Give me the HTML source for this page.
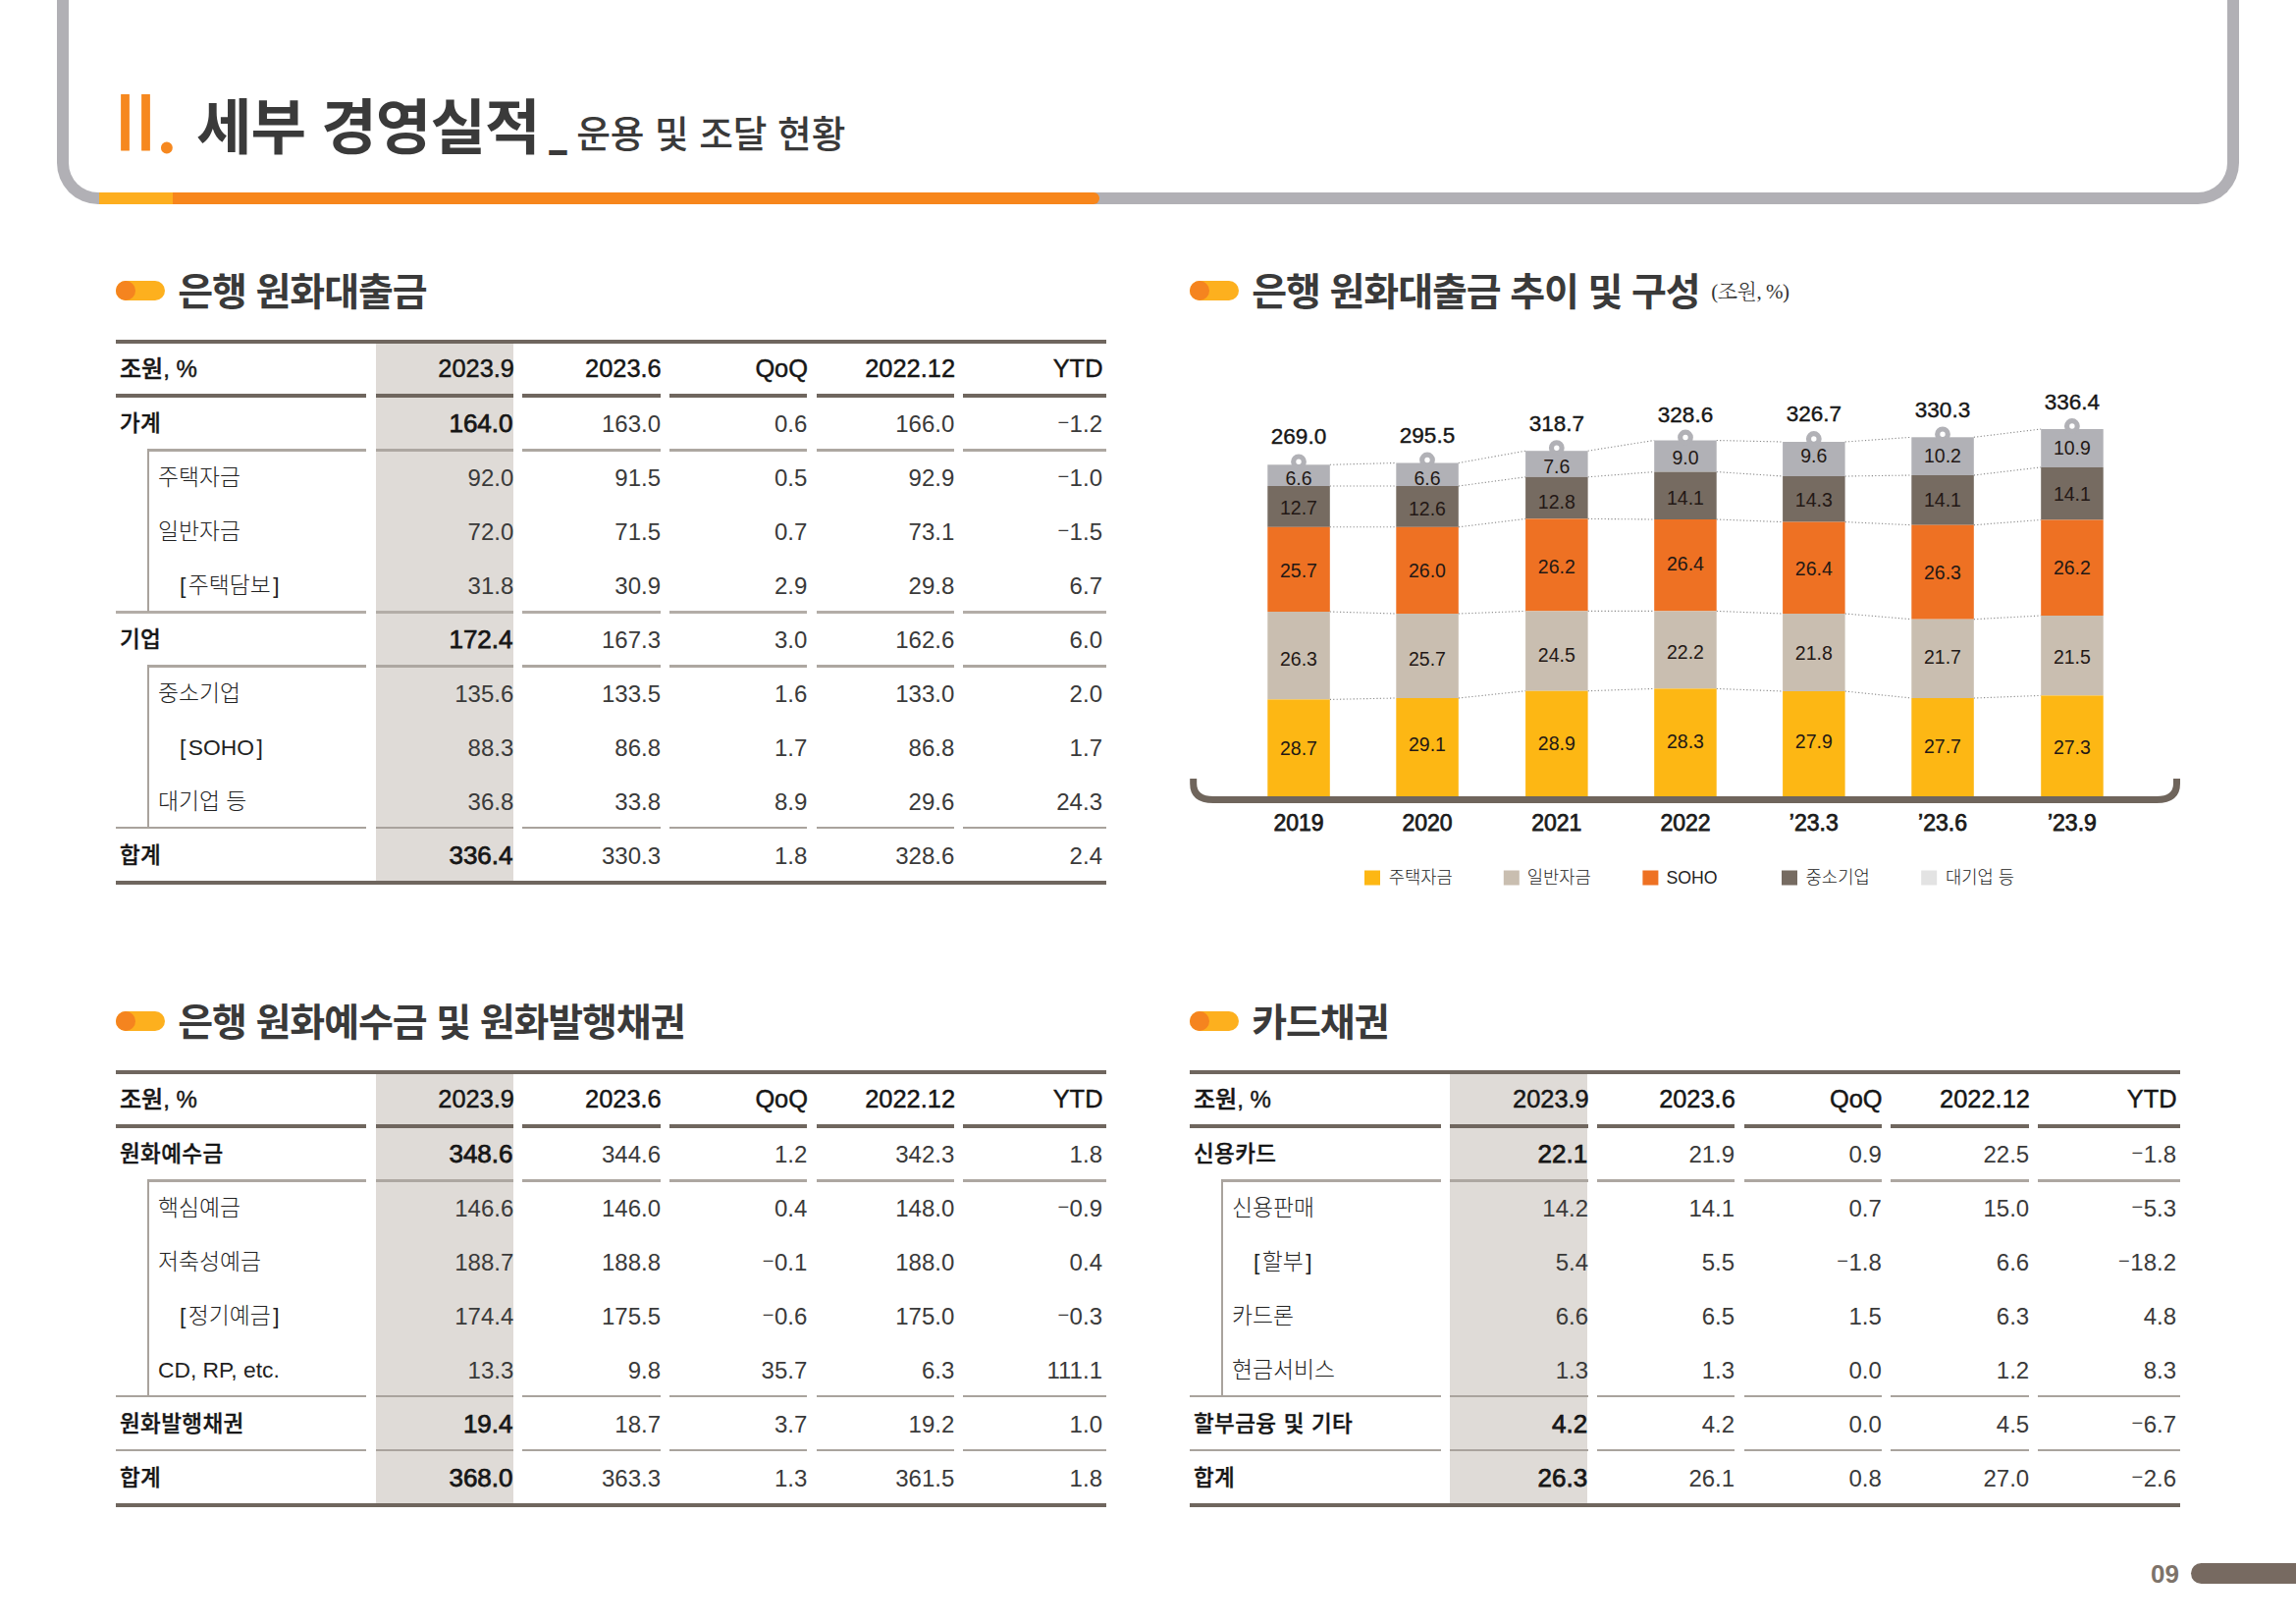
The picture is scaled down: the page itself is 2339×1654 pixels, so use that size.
<!DOCTYPE html>
<html lang="ko"><head><meta charset="utf-8"><title>II. 세부 경영실적 - 운용 및 조달 현황</title>
<style>
html,body{margin:0;padding:0;background:#fff}
body{width:2339px;height:1654px;position:relative;overflow:hidden;font-family:"Liberation Sans","Noto Sans CJK KR",sans-serif;color:#1d1d1d}
.abs{position:absolute}
.frame{position:absolute;left:58px;top:-40px;width:2199px;height:236px;border:12px solid #b1b0b5;border-top:none;border-radius:0 0 42px 42px;box-sizing:content-box}
.obar{position:absolute;top:196px;height:12px}
.h1{position:absolute;left:200px;top:85.5px;font-size:61.5px;font-weight:700;color:#3a3a3a;white-space:nowrap;line-height:90px;letter-spacing:-1px}
.h1s{position:absolute;left:559px;top:97px;font-size:37.7px;font-weight:500;color:#3a3a3a;white-space:nowrap;line-height:80px}
.sec{position:absolute;height:60px;line-height:60px;font-size:39px;font-weight:700;color:#3a3a3a;white-space:nowrap;letter-spacing:-1.1px}
.pill{position:absolute;width:50px;height:20px;border-radius:10px;background:#fdb01e}
.pill i{position:absolute;left:0;top:0;width:20px;height:20px;border-radius:10px;background:#f5841f}
.tbl{position:absolute;width:1009px}
.ln{position:absolute;background:#a9a39d}
.dk{background:#6f665e}
.hl{position:absolute;background:#dfdbd7}
.c{position:absolute;height:55px;line-height:55px;font-size:24px;white-space:nowrap;font-weight:300;color:#3a3a3a}
.lab{color:#222}
.r{text-align:right}
.mn{font-size:20px;position:relative;top:-2.6px;margin-right:0.5px}
.lab{font-size:22.8px}
.lab.b{font-size:22.5px;letter-spacing:0.4px;word-spacing:0.6px;font-weight:500;-webkit-text-stroke:0.35px #161616}
.nb{font-weight:400;font-size:26px;color:#161616;-webkit-text-stroke:0.75px #161616}
.b{font-weight:700;color:#161616}
.hd{font-weight:500;color:#161616;font-size:25.4px;-webkit-text-stroke:0.45px #161616}
</style></head><body>

<div class="frame"></div>
<div class="obar" style="left:101px;width:1019px;background:#f7861c;border-radius:0 6px 6px 0"></div>
<div class="obar" style="left:101px;width:75px;background:#fdae1f"></div>
<div class="abs" style="left:116.2px;top:74.9px;font-size:81px;line-height:100px;color:#f6881f;letter-spacing:-1.5px;-webkit-text-stroke:1.1px #f6881f;white-space:nowrap">II<span style="font-family:'Liberation Serif',serif;font-weight:700;font-size:73px;-webkit-text-stroke:0;position:relative;top:3.2px;margin-left:2.5px">.</span></div>
<div class="h1">세부 경영실적</div>
<div class="h1s" style="left:561.5px;font-size:25px;font-weight:700;top:103.5px;-webkit-text-stroke:4px #3a3a3a">_</div>
<div class="h1s" style="left:587.2px">운용 및 조달 현황</div>
<div class="pill" style="left:118px;top:286px"><i></i></div>
<div class="sec" style="left:181.3px;top:267.5px">은행 원화대출금</div>
<div class="pill" style="left:1212px;top:286px"><i></i></div>
<div class="sec" style="left:1275.3px;top:267.5px">은행 원화대출금 추이 및 구성 <span style="font-family:'Liberation Serif','Noto Serif CJK SC',serif;font-size:21px;font-weight:300;letter-spacing:-0.5px;color:#333;position:relative;top:-6.5px;margin-left:2px">(조원, %)</span></div>
<div class="pill" style="left:118px;top:1030px"><i></i></div>
<div class="sec" style="left:181.3px;top:1011.5px">은행 원화예수금 및 원화발행채권</div>
<div class="pill" style="left:1212px;top:1030px"><i></i></div>
<div class="sec" style="left:1275.3px;top:1011.5px">카드채권</div>
<div class="tbl" style="left:118px;top:346px;height:555px">
<div class="hl" style="left:265px;top:2px;width:140px;height:550px"></div>
<div class="ln dk" style="left:0;top:0;width:1009px;height:4px"></div>
<div class="ln dk" style="left:0;top:551px;width:1009px;height:4px"></div>
<div class="ln dk" style="left:0px;top:55px;width:255px;height:4px"></div>
<div class="ln dk" style="left:265px;top:55px;width:140px;height:4px"></div>
<div class="ln dk" style="left:414px;top:55px;width:140.7px;height:4px"></div>
<div class="ln dk" style="left:564px;top:55px;width:140px;height:4px"></div>
<div class="ln dk" style="left:714px;top:55px;width:140px;height:4px"></div>
<div class="ln dk" style="left:863.2px;top:55px;width:145.8px;height:4px"></div>
<div class="c hd" style="left:4px;top:2px;font-size:24px">조원, %</div>
<div class="c hd r" style="left:265px;width:141px;top:2px">2023.9</div>
<div class="c hd r" style="left:414px;width:141.7px;top:2px">2023.6</div>
<div class="c hd r" style="left:564px;width:141px;top:2px">QoQ</div>
<div class="c hd r" style="left:714px;width:141px;top:2px">2022.12</div>
<div class="c hd r" style="left:863.2px;width:142.3px;top:2px">YTD</div>
<div class="ln" style="left:32px;top:110.9px;width:223px;height:2.8px;background:#ada7a1"></div>
<div class="ln" style="left:265px;top:110.9px;width:140px;height:2.8px;background:#ada7a1"></div>
<div class="ln" style="left:414px;top:110.9px;width:140.7px;height:2.8px;background:#ada7a1"></div>
<div class="ln" style="left:564px;top:110.9px;width:140px;height:2.8px;background:#ada7a1"></div>
<div class="ln" style="left:714px;top:110.9px;width:140px;height:2.8px;background:#ada7a1"></div>
<div class="ln" style="left:863.2px;top:110.9px;width:145.8px;height:2.8px;background:#ada7a1"></div>
<div class="c b lab" style="left:4px;top:58px">가계</div>
<div class="c r nb" style="left:265px;width:139.5px;top:57.8px">164.0</div>
<div class="c r" style="left:414px;width:141px;top:57.8px">163.0</div>
<div class="c r" style="left:564px;width:140.3px;top:57.8px">0.6</div>
<div class="c r" style="left:714px;width:140.3px;top:57.8px">166.0</div>
<div class="c r" style="left:863.2px;width:141.8px;top:57.8px"><span class="mn">−</span>1.2</div>
<div class="c lab" style="left:43px;top:113px">주택자금</div>
<div class="c r" style="left:265px;width:140.3px;top:112.8px">92.0</div>
<div class="c r" style="left:414px;width:141px;top:112.8px">91.5</div>
<div class="c r" style="left:564px;width:140.3px;top:112.8px">0.5</div>
<div class="c r" style="left:714px;width:140.3px;top:112.8px">92.9</div>
<div class="c r" style="left:863.2px;width:141.8px;top:112.8px"><span class="mn">−</span>1.0</div>
<div class="c lab" style="left:43px;top:168px">일반자금</div>
<div class="c r" style="left:265px;width:140.3px;top:167.8px">72.0</div>
<div class="c r" style="left:414px;width:141px;top:167.8px">71.5</div>
<div class="c r" style="left:564px;width:140.3px;top:167.8px">0.7</div>
<div class="c r" style="left:714px;width:140.3px;top:167.8px">73.1</div>
<div class="c r" style="left:863.2px;width:141.8px;top:167.8px"><span class="mn">−</span>1.5</div>
<div class="ln" style="left:0px;top:275.9px;width:255px;height:3px;background:#b3ada7"></div>
<div class="ln" style="left:265px;top:275.9px;width:140px;height:3px;background:#b3ada7"></div>
<div class="ln" style="left:414px;top:275.9px;width:140.7px;height:3px;background:#b3ada7"></div>
<div class="ln" style="left:564px;top:275.9px;width:140px;height:3px;background:#b3ada7"></div>
<div class="ln" style="left:714px;top:275.9px;width:140px;height:3px;background:#b3ada7"></div>
<div class="ln" style="left:863.2px;top:275.9px;width:145.8px;height:3px;background:#b3ada7"></div>
<div class="c lab" style="left:65px;top:223px"><span style="margin-right:2.5px">[</span>주택담보<span style="margin-left:2.5px">]</span></div>
<div class="c r" style="left:265px;width:140.3px;top:222.8px">31.8</div>
<div class="c r" style="left:414px;width:141px;top:222.8px">30.9</div>
<div class="c r" style="left:564px;width:140.3px;top:222.8px">2.9</div>
<div class="c r" style="left:714px;width:140.3px;top:222.8px">29.8</div>
<div class="c r" style="left:863.2px;width:141.8px;top:222.8px">6.7</div>
<div class="ln" style="left:32px;top:330.9px;width:223px;height:2.8px;background:#ada7a1"></div>
<div class="ln" style="left:265px;top:330.9px;width:140px;height:2.8px;background:#ada7a1"></div>
<div class="ln" style="left:414px;top:330.9px;width:140.7px;height:2.8px;background:#ada7a1"></div>
<div class="ln" style="left:564px;top:330.9px;width:140px;height:2.8px;background:#ada7a1"></div>
<div class="ln" style="left:714px;top:330.9px;width:140px;height:2.8px;background:#ada7a1"></div>
<div class="ln" style="left:863.2px;top:330.9px;width:145.8px;height:2.8px;background:#ada7a1"></div>
<div class="c b lab" style="left:4px;top:278px">기업</div>
<div class="c r nb" style="left:265px;width:139.5px;top:277.8px">172.4</div>
<div class="c r" style="left:414px;width:141px;top:277.8px">167.3</div>
<div class="c r" style="left:564px;width:140.3px;top:277.8px">3.0</div>
<div class="c r" style="left:714px;width:140.3px;top:277.8px">162.6</div>
<div class="c r" style="left:863.2px;width:141.8px;top:277.8px">6.0</div>
<div class="c lab" style="left:43px;top:333px">중소기업</div>
<div class="c r" style="left:265px;width:140.3px;top:332.8px">135.6</div>
<div class="c r" style="left:414px;width:141px;top:332.8px">133.5</div>
<div class="c r" style="left:564px;width:140.3px;top:332.8px">1.6</div>
<div class="c r" style="left:714px;width:140.3px;top:332.8px">133.0</div>
<div class="c r" style="left:863.2px;width:141.8px;top:332.8px">2.0</div>
<div class="c lab" style="left:65px;top:388px"><span style="margin-right:2.5px">[</span>SOHO<span style="margin-left:2.5px">]</span></div>
<div class="c r" style="left:265px;width:140.3px;top:387.8px">88.3</div>
<div class="c r" style="left:414px;width:141px;top:387.8px">86.8</div>
<div class="c r" style="left:564px;width:140.3px;top:387.8px">1.7</div>
<div class="c r" style="left:714px;width:140.3px;top:387.8px">86.8</div>
<div class="c r" style="left:863.2px;width:141.8px;top:387.8px">1.7</div>
<div class="ln" style="left:0px;top:495.9px;width:255px;height:2.4px"></div>
<div class="ln" style="left:265px;top:495.9px;width:140px;height:2.4px"></div>
<div class="ln" style="left:414px;top:495.9px;width:140.7px;height:2.4px"></div>
<div class="ln" style="left:564px;top:495.9px;width:140px;height:2.4px"></div>
<div class="ln" style="left:714px;top:495.9px;width:140px;height:2.4px"></div>
<div class="ln" style="left:863.2px;top:495.9px;width:145.8px;height:2.4px"></div>
<div class="c lab" style="left:43px;top:443px">대기업 등</div>
<div class="c r" style="left:265px;width:140.3px;top:442.8px">36.8</div>
<div class="c r" style="left:414px;width:141px;top:442.8px">33.8</div>
<div class="c r" style="left:564px;width:140.3px;top:442.8px">8.9</div>
<div class="c r" style="left:714px;width:140.3px;top:442.8px">29.6</div>
<div class="c r" style="left:863.2px;width:141.8px;top:442.8px">24.3</div>
<div class="c b lab" style="left:4px;top:498px">합계</div>
<div class="c r nb" style="left:265px;width:139.5px;top:497.8px">336.4</div>
<div class="c r" style="left:414px;width:141px;top:497.8px">330.3</div>
<div class="c r" style="left:564px;width:140.3px;top:497.8px">1.8</div>
<div class="c r" style="left:714px;width:140.3px;top:497.8px">328.6</div>
<div class="c r" style="left:863.2px;width:141.8px;top:497.8px">2.4</div>
<div class="ln" style="left:32px;top:111px;width:2px;height:166px"></div>
<div class="ln" style="left:32px;top:331px;width:2px;height:166px"></div>
</div>
<div class="tbl" style="left:118px;top:1090px;height:445px">
<div class="hl" style="left:265px;top:2px;width:140px;height:440px"></div>
<div class="ln dk" style="left:0;top:0;width:1009px;height:4px"></div>
<div class="ln dk" style="left:0;top:441px;width:1009px;height:4px"></div>
<div class="ln dk" style="left:0px;top:55px;width:255px;height:4px"></div>
<div class="ln dk" style="left:265px;top:55px;width:140px;height:4px"></div>
<div class="ln dk" style="left:414px;top:55px;width:140.7px;height:4px"></div>
<div class="ln dk" style="left:564px;top:55px;width:140px;height:4px"></div>
<div class="ln dk" style="left:714px;top:55px;width:140px;height:4px"></div>
<div class="ln dk" style="left:863.2px;top:55px;width:145.8px;height:4px"></div>
<div class="c hd" style="left:4px;top:2px;font-size:24px">조원, %</div>
<div class="c hd r" style="left:265px;width:141px;top:2px">2023.9</div>
<div class="c hd r" style="left:414px;width:141.7px;top:2px">2023.6</div>
<div class="c hd r" style="left:564px;width:141px;top:2px">QoQ</div>
<div class="c hd r" style="left:714px;width:141px;top:2px">2022.12</div>
<div class="c hd r" style="left:863.2px;width:142.3px;top:2px">YTD</div>
<div class="ln" style="left:32px;top:110.9px;width:223px;height:2.8px;background:#ada7a1"></div>
<div class="ln" style="left:265px;top:110.9px;width:140px;height:2.8px;background:#ada7a1"></div>
<div class="ln" style="left:414px;top:110.9px;width:140.7px;height:2.8px;background:#ada7a1"></div>
<div class="ln" style="left:564px;top:110.9px;width:140px;height:2.8px;background:#ada7a1"></div>
<div class="ln" style="left:714px;top:110.9px;width:140px;height:2.8px;background:#ada7a1"></div>
<div class="ln" style="left:863.2px;top:110.9px;width:145.8px;height:2.8px;background:#ada7a1"></div>
<div class="c b lab" style="left:4px;top:58px">원화예수금</div>
<div class="c r nb" style="left:265px;width:139.5px;top:57.8px">348.6</div>
<div class="c r" style="left:414px;width:141px;top:57.8px">344.6</div>
<div class="c r" style="left:564px;width:140.3px;top:57.8px">1.2</div>
<div class="c r" style="left:714px;width:140.3px;top:57.8px">342.3</div>
<div class="c r" style="left:863.2px;width:141.8px;top:57.8px">1.8</div>
<div class="c lab" style="left:43px;top:113px">핵심예금</div>
<div class="c r" style="left:265px;width:140.3px;top:112.8px">146.6</div>
<div class="c r" style="left:414px;width:141px;top:112.8px">146.0</div>
<div class="c r" style="left:564px;width:140.3px;top:112.8px">0.4</div>
<div class="c r" style="left:714px;width:140.3px;top:112.8px">148.0</div>
<div class="c r" style="left:863.2px;width:141.8px;top:112.8px"><span class="mn">−</span>0.9</div>
<div class="c lab" style="left:43px;top:168px">저축성예금</div>
<div class="c r" style="left:265px;width:140.3px;top:167.8px">188.7</div>
<div class="c r" style="left:414px;width:141px;top:167.8px">188.8</div>
<div class="c r" style="left:564px;width:140.3px;top:167.8px"><span class="mn">−</span>0.1</div>
<div class="c r" style="left:714px;width:140.3px;top:167.8px">188.0</div>
<div class="c r" style="left:863.2px;width:141.8px;top:167.8px">0.4</div>
<div class="c lab" style="left:65px;top:223px"><span style="margin-right:2.5px">[</span>정기예금<span style="margin-left:2.5px">]</span></div>
<div class="c r" style="left:265px;width:140.3px;top:222.8px">174.4</div>
<div class="c r" style="left:414px;width:141px;top:222.8px">175.5</div>
<div class="c r" style="left:564px;width:140.3px;top:222.8px"><span class="mn">−</span>0.6</div>
<div class="c r" style="left:714px;width:140.3px;top:222.8px">175.0</div>
<div class="c r" style="left:863.2px;width:141.8px;top:222.8px"><span class="mn">−</span>0.3</div>
<div class="ln" style="left:0px;top:330.9px;width:255px;height:2.4px"></div>
<div class="ln" style="left:265px;top:330.9px;width:140px;height:2.4px"></div>
<div class="ln" style="left:414px;top:330.9px;width:140.7px;height:2.4px"></div>
<div class="ln" style="left:564px;top:330.9px;width:140px;height:2.4px"></div>
<div class="ln" style="left:714px;top:330.9px;width:140px;height:2.4px"></div>
<div class="ln" style="left:863.2px;top:330.9px;width:145.8px;height:2.4px"></div>
<div class="c lab" style="left:43px;top:278px">CD, RP, etc.</div>
<div class="c r" style="left:265px;width:140.3px;top:277.8px">13.3</div>
<div class="c r" style="left:414px;width:141px;top:277.8px">9.8</div>
<div class="c r" style="left:564px;width:140.3px;top:277.8px">35.7</div>
<div class="c r" style="left:714px;width:140.3px;top:277.8px">6.3</div>
<div class="c r" style="left:863.2px;width:141.8px;top:277.8px">111.1</div>
<div class="ln" style="left:0px;top:385.9px;width:255px;height:2.4px"></div>
<div class="ln" style="left:265px;top:385.9px;width:140px;height:2.4px"></div>
<div class="ln" style="left:414px;top:385.9px;width:140.7px;height:2.4px"></div>
<div class="ln" style="left:564px;top:385.9px;width:140px;height:2.4px"></div>
<div class="ln" style="left:714px;top:385.9px;width:140px;height:2.4px"></div>
<div class="ln" style="left:863.2px;top:385.9px;width:145.8px;height:2.4px"></div>
<div class="c b lab" style="left:4px;top:333px">원화발행채권</div>
<div class="c r nb" style="left:265px;width:139.5px;top:332.8px">19.4</div>
<div class="c r" style="left:414px;width:141px;top:332.8px">18.7</div>
<div class="c r" style="left:564px;width:140.3px;top:332.8px">3.7</div>
<div class="c r" style="left:714px;width:140.3px;top:332.8px">19.2</div>
<div class="c r" style="left:863.2px;width:141.8px;top:332.8px">1.0</div>
<div class="c b lab" style="left:4px;top:388px">합계</div>
<div class="c r nb" style="left:265px;width:139.5px;top:387.8px">368.0</div>
<div class="c r" style="left:414px;width:141px;top:387.8px">363.3</div>
<div class="c r" style="left:564px;width:140.3px;top:387.8px">1.3</div>
<div class="c r" style="left:714px;width:140.3px;top:387.8px">361.5</div>
<div class="c r" style="left:863.2px;width:141.8px;top:387.8px">1.8</div>
<div class="ln" style="left:32px;top:111px;width:2px;height:221px"></div>
</div>
<div class="tbl" style="left:1212px;top:1090px;height:445px">
<div class="hl" style="left:265px;top:2px;width:140px;height:440px"></div>
<div class="ln dk" style="left:0;top:0;width:1009px;height:4px"></div>
<div class="ln dk" style="left:0;top:441px;width:1009px;height:4px"></div>
<div class="ln dk" style="left:0px;top:55px;width:255.5px;height:4px"></div>
<div class="ln dk" style="left:265px;top:55px;width:140.7px;height:4px"></div>
<div class="ln dk" style="left:415px;top:55px;width:139.8px;height:4px"></div>
<div class="ln dk" style="left:564.6px;top:55px;width:140px;height:4px"></div>
<div class="ln dk" style="left:714px;top:55px;width:140.9px;height:4px"></div>
<div class="ln dk" style="left:864px;top:55px;width:145px;height:4px"></div>
<div class="c hd" style="left:4px;top:2px;font-size:24px">조원, %</div>
<div class="c hd r" style="left:265px;width:141.7px;top:2px">2023.9</div>
<div class="c hd r" style="left:415px;width:140.8px;top:2px">2023.6</div>
<div class="c hd r" style="left:564.6px;width:141px;top:2px">QoQ</div>
<div class="c hd r" style="left:714px;width:141.9px;top:2px">2022.12</div>
<div class="c hd r" style="left:864px;width:141.5px;top:2px">YTD</div>
<div class="ln" style="left:32px;top:110.9px;width:223.5px;height:2.8px;background:#ada7a1"></div>
<div class="ln" style="left:265px;top:110.9px;width:140.7px;height:2.8px;background:#ada7a1"></div>
<div class="ln" style="left:415px;top:110.9px;width:139.8px;height:2.8px;background:#ada7a1"></div>
<div class="ln" style="left:564.6px;top:110.9px;width:140px;height:2.8px;background:#ada7a1"></div>
<div class="ln" style="left:714px;top:110.9px;width:140.9px;height:2.8px;background:#ada7a1"></div>
<div class="ln" style="left:864px;top:110.9px;width:145px;height:2.8px;background:#ada7a1"></div>
<div class="c b lab" style="left:4px;top:58px">신용카드</div>
<div class="c r nb" style="left:265px;width:140.2px;top:57.8px">22.1</div>
<div class="c r" style="left:415px;width:140.1px;top:57.8px">21.9</div>
<div class="c r" style="left:564.6px;width:140.3px;top:57.8px">0.9</div>
<div class="c r" style="left:714px;width:141.2px;top:57.8px">22.5</div>
<div class="c r" style="left:864px;width:141px;top:57.8px"><span class="mn">−</span>1.8</div>
<div class="c lab" style="left:43px;top:113px">신용판매</div>
<div class="c r" style="left:265px;width:141px;top:112.8px">14.2</div>
<div class="c r" style="left:415px;width:140.1px;top:112.8px">14.1</div>
<div class="c r" style="left:564.6px;width:140.3px;top:112.8px">0.7</div>
<div class="c r" style="left:714px;width:141.2px;top:112.8px">15.0</div>
<div class="c r" style="left:864px;width:141px;top:112.8px"><span class="mn">−</span>5.3</div>
<div class="c lab" style="left:65px;top:168px"><span style="margin-right:2.5px">[</span>할부<span style="margin-left:2.5px">]</span></div>
<div class="c r" style="left:265px;width:141px;top:167.8px">5.4</div>
<div class="c r" style="left:415px;width:140.1px;top:167.8px">5.5</div>
<div class="c r" style="left:564.6px;width:140.3px;top:167.8px"><span class="mn">−</span>1.8</div>
<div class="c r" style="left:714px;width:141.2px;top:167.8px">6.6</div>
<div class="c r" style="left:864px;width:141px;top:167.8px"><span class="mn">−</span>18.2</div>
<div class="c lab" style="left:43px;top:223px">카드론</div>
<div class="c r" style="left:265px;width:141px;top:222.8px">6.6</div>
<div class="c r" style="left:415px;width:140.1px;top:222.8px">6.5</div>
<div class="c r" style="left:564.6px;width:140.3px;top:222.8px">1.5</div>
<div class="c r" style="left:714px;width:141.2px;top:222.8px">6.3</div>
<div class="c r" style="left:864px;width:141px;top:222.8px">4.8</div>
<div class="ln" style="left:0px;top:330.9px;width:255.5px;height:2.4px"></div>
<div class="ln" style="left:265px;top:330.9px;width:140.7px;height:2.4px"></div>
<div class="ln" style="left:415px;top:330.9px;width:139.8px;height:2.4px"></div>
<div class="ln" style="left:564.6px;top:330.9px;width:140px;height:2.4px"></div>
<div class="ln" style="left:714px;top:330.9px;width:140.9px;height:2.4px"></div>
<div class="ln" style="left:864px;top:330.9px;width:145px;height:2.4px"></div>
<div class="c lab" style="left:43px;top:278px">현금서비스</div>
<div class="c r" style="left:265px;width:141px;top:277.8px">1.3</div>
<div class="c r" style="left:415px;width:140.1px;top:277.8px">1.3</div>
<div class="c r" style="left:564.6px;width:140.3px;top:277.8px">0.0</div>
<div class="c r" style="left:714px;width:141.2px;top:277.8px">1.2</div>
<div class="c r" style="left:864px;width:141px;top:277.8px">8.3</div>
<div class="ln" style="left:0px;top:385.9px;width:255.5px;height:2.4px"></div>
<div class="ln" style="left:265px;top:385.9px;width:140.7px;height:2.4px"></div>
<div class="ln" style="left:415px;top:385.9px;width:139.8px;height:2.4px"></div>
<div class="ln" style="left:564.6px;top:385.9px;width:140px;height:2.4px"></div>
<div class="ln" style="left:714px;top:385.9px;width:140.9px;height:2.4px"></div>
<div class="ln" style="left:864px;top:385.9px;width:145px;height:2.4px"></div>
<div class="c b lab" style="left:4px;top:333px">할부금융 및 기타</div>
<div class="c r nb" style="left:265px;width:140.2px;top:332.8px">4.2</div>
<div class="c r" style="left:415px;width:140.1px;top:332.8px">4.2</div>
<div class="c r" style="left:564.6px;width:140.3px;top:332.8px">0.0</div>
<div class="c r" style="left:714px;width:141.2px;top:332.8px">4.5</div>
<div class="c r" style="left:864px;width:141px;top:332.8px"><span class="mn">−</span>6.7</div>
<div class="c b lab" style="left:4px;top:388px">합계</div>
<div class="c r nb" style="left:265px;width:140.2px;top:387.8px">26.3</div>
<div class="c r" style="left:415px;width:140.1px;top:387.8px">26.1</div>
<div class="c r" style="left:564.6px;width:140.3px;top:387.8px">0.8</div>
<div class="c r" style="left:714px;width:141.2px;top:387.8px">27.0</div>
<div class="c r" style="left:864px;width:141px;top:387.8px"><span class="mn">−</span>2.6</div>
<div class="ln" style="left:32px;top:111px;width:2px;height:221px"></div>
</div>
<svg class="abs" style="left:0;top:0" width="2339" height="960" viewBox="0 0 2339 960" font-family="'Liberation Sans','Noto Sans CJK KR',sans-serif">
<g stroke="#8a8a8a" stroke-width="1.1" stroke-dasharray="1.2 2.2" fill="none">
<line x1="1354.8" y1="473.3" x2="1422.3" y2="471.5"/>
<line x1="1354.8" y1="495.0" x2="1422.3" y2="495.0"/>
<line x1="1354.8" y1="536.8" x2="1422.3" y2="536.8"/>
<line x1="1354.8" y1="623.0" x2="1422.3" y2="625.0"/>
<line x1="1354.8" y1="712.4" x2="1422.3" y2="711.0"/>
<line x1="1485.8" y1="471.5" x2="1554.1" y2="459.2"/>
<line x1="1485.8" y1="495.0" x2="1554.1" y2="485.8"/>
<line x1="1485.8" y1="536.8" x2="1554.1" y2="528.4"/>
<line x1="1485.8" y1="625.0" x2="1554.1" y2="622.4"/>
<line x1="1485.8" y1="711.0" x2="1554.1" y2="703.7"/>
<line x1="1617.6" y1="459.2" x2="1685.2" y2="448.5"/>
<line x1="1617.6" y1="485.8" x2="1685.2" y2="480.6"/>
<line x1="1617.6" y1="528.4" x2="1685.2" y2="529.0"/>
<line x1="1617.6" y1="622.4" x2="1685.2" y2="622.4"/>
<line x1="1617.6" y1="703.7" x2="1685.2" y2="701.4"/>
<line x1="1748.7" y1="448.5" x2="1816.1" y2="450.0"/>
<line x1="1748.7" y1="480.6" x2="1816.1" y2="485.0"/>
<line x1="1748.7" y1="529.0" x2="1816.1" y2="531.6"/>
<line x1="1748.7" y1="622.4" x2="1816.1" y2="625.0"/>
<line x1="1748.7" y1="701.4" x2="1816.1" y2="704.0"/>
<line x1="1879.6" y1="450.0" x2="1947.3" y2="445.3"/>
<line x1="1879.6" y1="485.0" x2="1947.3" y2="484.0"/>
<line x1="1879.6" y1="531.6" x2="1947.3" y2="534.7"/>
<line x1="1879.6" y1="625.0" x2="1947.3" y2="630.7"/>
<line x1="1879.6" y1="704.0" x2="1947.3" y2="711.0"/>
<line x1="2010.8" y1="445.3" x2="2079.2" y2="437.0"/>
<line x1="2010.8" y1="484.0" x2="2079.2" y2="475.9"/>
<line x1="2010.8" y1="534.7" x2="2079.2" y2="529.5"/>
<line x1="2010.8" y1="630.7" x2="2079.2" y2="627.0"/>
<line x1="2010.8" y1="711.0" x2="2079.2" y2="708.4"/>
</g>
<rect x="1291.3" y="473.3" width="63.5" height="21.7" fill="#b1b1b6"/>
<rect x="1291.3" y="495.0" width="63.5" height="41.8" fill="#766b61"/>
<rect x="1291.3" y="536.8" width="63.5" height="86.2" fill="#ee7123"/>
<rect x="1291.3" y="623.0" width="63.5" height="89.4" fill="#c9beb0"/>
<rect x="1291.3" y="712.4" width="63.5" height="99.6" fill="#fdb714"/>
<circle cx="1323.0" cy="470.3" r="5.3" fill="#fff" stroke="#b1b1b6" stroke-width="5.2"/>
<rect x="1422.3" y="471.5" width="63.5" height="23.5" fill="#b1b1b6"/>
<rect x="1422.3" y="495.0" width="63.5" height="41.8" fill="#766b61"/>
<rect x="1422.3" y="536.8" width="63.5" height="88.2" fill="#ee7123"/>
<rect x="1422.3" y="625.0" width="63.5" height="86.0" fill="#c9beb0"/>
<rect x="1422.3" y="711.0" width="63.5" height="101.0" fill="#fdb714"/>
<circle cx="1454.0" cy="468.5" r="5.3" fill="#fff" stroke="#b1b1b6" stroke-width="5.2"/>
<rect x="1554.1" y="459.2" width="63.5" height="26.6" fill="#b1b1b6"/>
<rect x="1554.1" y="485.8" width="63.5" height="42.6" fill="#766b61"/>
<rect x="1554.1" y="528.4" width="63.5" height="94.0" fill="#ee7123"/>
<rect x="1554.1" y="622.4" width="63.5" height="81.3" fill="#c9beb0"/>
<rect x="1554.1" y="703.7" width="63.5" height="108.3" fill="#fdb714"/>
<circle cx="1585.8" cy="456.2" r="5.3" fill="#fff" stroke="#b1b1b6" stroke-width="5.2"/>
<rect x="1685.2" y="448.5" width="63.5" height="32.1" fill="#b1b1b6"/>
<rect x="1685.2" y="480.6" width="63.5" height="48.4" fill="#766b61"/>
<rect x="1685.2" y="529.0" width="63.5" height="93.4" fill="#ee7123"/>
<rect x="1685.2" y="622.4" width="63.5" height="79.0" fill="#c9beb0"/>
<rect x="1685.2" y="701.4" width="63.5" height="110.6" fill="#fdb714"/>
<circle cx="1717.0" cy="445.5" r="5.3" fill="#fff" stroke="#b1b1b6" stroke-width="5.2"/>
<rect x="1816.1" y="450.0" width="63.5" height="35.0" fill="#b1b1b6"/>
<rect x="1816.1" y="485.0" width="63.5" height="46.6" fill="#766b61"/>
<rect x="1816.1" y="531.6" width="63.5" height="93.4" fill="#ee7123"/>
<rect x="1816.1" y="625.0" width="63.5" height="79.0" fill="#c9beb0"/>
<rect x="1816.1" y="704.0" width="63.5" height="108.0" fill="#fdb714"/>
<circle cx="1847.8" cy="447.0" r="5.3" fill="#fff" stroke="#b1b1b6" stroke-width="5.2"/>
<rect x="1947.3" y="445.3" width="63.5" height="38.7" fill="#b1b1b6"/>
<rect x="1947.3" y="484.0" width="63.5" height="50.7" fill="#766b61"/>
<rect x="1947.3" y="534.7" width="63.5" height="96.0" fill="#ee7123"/>
<rect x="1947.3" y="630.7" width="63.5" height="80.3" fill="#c9beb0"/>
<rect x="1947.3" y="711.0" width="63.5" height="101.0" fill="#fdb714"/>
<circle cx="1979.0" cy="442.3" r="5.3" fill="#fff" stroke="#b1b1b6" stroke-width="5.2"/>
<rect x="2079.2" y="437.0" width="63.5" height="38.9" fill="#b1b1b6"/>
<rect x="2079.2" y="475.9" width="63.5" height="53.6" fill="#766b61"/>
<rect x="2079.2" y="529.5" width="63.5" height="97.5" fill="#ee7123"/>
<rect x="2079.2" y="627.0" width="63.5" height="81.4" fill="#c9beb0"/>
<rect x="2079.2" y="708.4" width="63.5" height="103.6" fill="#fdb714"/>
<circle cx="2110.9" cy="434.0" r="5.3" fill="#fff" stroke="#b1b1b6" stroke-width="5.2"/>
<path d="M1215.7 793 V798 Q1215.7 814.5 1236 814.5 H2197 Q2217.5 814.5 2217.5 798 V793" fill="none" stroke="#6f655c" stroke-width="7"/>
<g font-size="19.5" fill="#231815" text-anchor="middle">
<text x="1323.0" y="493.6">6.6</text>
<text x="1323.0" y="524.0">12.7</text>
<text x="1323.0" y="587.7">25.7</text>
<text x="1323.0" y="677.5">26.3</text>
<text x="1323.0" y="769.0">28.7</text>
<text x="1454.0" y="493.6">6.6</text>
<text x="1454.0" y="524.7">12.6</text>
<text x="1454.0" y="587.7">26.0</text>
<text x="1454.0" y="677.5">25.7</text>
<text x="1454.0" y="764.6">29.1</text>
<text x="1585.8" y="482.4">7.6</text>
<text x="1585.8" y="517.7">12.8</text>
<text x="1585.8" y="583.5">26.2</text>
<text x="1585.8" y="674.4">24.5</text>
<text x="1585.8" y="763.8">28.9</text>
<text x="1717.0" y="473.2">9.0</text>
<text x="1717.0" y="513.7">14.1</text>
<text x="1717.0" y="580.9">26.4</text>
<text x="1717.0" y="670.5">22.2</text>
<text x="1717.0" y="762.0">28.3</text>
<text x="1847.8" y="471.4">9.6</text>
<text x="1847.8" y="515.6">14.3</text>
<text x="1847.8" y="586.0">26.4</text>
<text x="1847.8" y="672.3">21.8</text>
<text x="1847.8" y="762.0">27.9</text>
<text x="1979.0" y="471.4">10.2</text>
<text x="1979.0" y="515.6">14.1</text>
<text x="1979.0" y="589.5">26.3</text>
<text x="1979.0" y="676.2">21.7</text>
<text x="1979.0" y="767.2">27.7</text>
<text x="2110.9" y="463.3">10.9</text>
<text x="2110.9" y="509.8">14.1</text>
<text x="2110.9" y="584.8">26.2</text>
<text x="2110.9" y="676.2">21.5</text>
<text x="2110.9" y="768.2">27.3</text>
</g>
<g font-size="22.5" fill="#161616" stroke="#161616" stroke-width="0.4" text-anchor="middle">
<text x="1323.0" y="452.0">269.0</text>
<text x="1454.0" y="451.2">295.5</text>
<text x="1585.8" y="439.0">318.7</text>
<text x="1717.0" y="430.3">328.6</text>
<text x="1847.8" y="428.5">326.7</text>
<text x="1979.0" y="425.1">330.3</text>
<text x="2110.9" y="416.7">336.4</text>
</g>
<g font-size="23" fill="#1a1a1a" stroke="#1a1a1a" stroke-width="0.75" text-anchor="middle">
<text x="1323.0" y="846.0">2019</text>
<text x="1454.0" y="846.0">2020</text>
<text x="1585.8" y="846.0">2021</text>
<text x="1717.0" y="846.0">2022</text>
<text x="1847.8" y="846.0">’23.3</text>
<text x="1979.0" y="846.0">’23.6</text>
<text x="2110.9" y="846.0">’23.9</text>
</g>
<g font-size="17.7" font-weight="300" fill="#222">
<rect x="1390.0" y="886.5" width="16" height="15" fill="#fdb714"/>
<text x="1414.7" y="900">주택자금</text>
<rect x="1531.8" y="886.5" width="16" height="15" fill="#c9beb0"/>
<text x="1555.8" y="900">일반자금</text>
<rect x="1673.4" y="886.5" width="16" height="15" fill="#ee7123"/>
<text x="1697.4" y="900">SOHO</text>
<rect x="1815.0" y="886.5" width="16" height="15" fill="#766b61"/>
<text x="1839.6" y="900">중소기업</text>
<rect x="1957.2" y="886.5" width="16" height="15" fill="#e3e3e3"/>
<text x="1982.0" y="900">대기업 등</text>
</g>
</svg>
<div class="abs" style="left:2150px;top:1585px;width:70px;text-align:right;font-size:26px;font-weight:700;color:#7d736a;line-height:36px">09</div>
<div class="abs" style="left:2232px;top:1592px;width:120px;height:21px;border-radius:10.5px;background:#776a61"></div>
</body></html>
